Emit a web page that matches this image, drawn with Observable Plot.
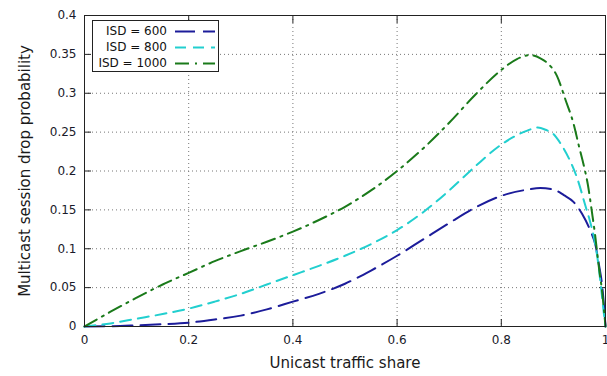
<!DOCTYPE html>
<html>
<head>
<meta charset="utf-8">
<script src="https://cdn.jsdelivr.net/npm/d3@7"></script>
<script src="https://cdn.jsdelivr.net/npm/@observablehq/plot@0.6"></script>
<style>
  html, body { margin: 0; padding: 0; background: white; }
  #wrap { position: relative; width: 607px; height: 376px; overflow: hidden; }
  #legend { position: absolute; left: 92px; top: 20px; width: 125px; height: 50px;
    border: 1px solid #222; background: white; font-family: "DejaVu Sans", sans-serif; font-size: 12px; color: #111; }
  #legend .row { position: absolute; left: 0; width: 125px; height: 17px; }
  #legend .lab { position: absolute; right: 51px; top: 0; line-height: 17px; white-space: nowrap; }
  #legend svg { position: absolute; left: 82px; top: 0; }
</style>
</head>
<body>
<div id="wrap"></div>
<script>
// ---- data ----
const seriesNames = ["ISD = 600", "ISD = 800", "ISD = 1000"];
const seriesColors = ["#1c1c9a", "#22cfcf", "#1a7a1a"];
const seriesDash = ["20,8", "11,7", "14,6,2,6"];

const isd600X = [0, 0.05, 0.1, 0.15, 0.2, 0.25, 0.3, 0.35, 0.4, 0.45, 0.5, 0.55, 0.6, 0.65, 0.7, 0.75, 0.8, 0.85, 0.875, 0.901, 0.92, 0.939, 0.955, 0.971, 0.981, 0.987, 0.994, 0.999, 1];
const isd600Y = [0, 0.0003, 0.0015, 0.003, 0.005, 0.009, 0.014, 0.022, 0.032, 0.042, 0.055, 0.072, 0.091, 0.112, 0.133, 0.153, 0.168, 0.176, 0.178, 0.176, 0.169, 0.160, 0.145, 0.123, 0.104, 0.081, 0.050, 0.010, 0];

const isd800X = [0, 0.05, 0.1, 0.15, 0.2, 0.25, 0.3, 0.35, 0.4, 0.45, 0.5, 0.55, 0.6, 0.65, 0.7, 0.75, 0.8, 0.85, 0.87, 0.885, 0.901, 0.915, 0.93, 0.946, 0.962, 0.97, 0.978, 0.984, 0.99, 0.997, 1];
const isd800Y = [0, 0.004, 0.010, 0.016, 0.023, 0.032, 0.042, 0.054, 0.066, 0.078, 0.091, 0.106, 0.124, 0.147, 0.175, 0.206, 0.234, 0.252, 0.256, 0.253, 0.247, 0.234, 0.216, 0.190, 0.154, 0.136, 0.114, 0.091, 0.059, 0.016, 0];

const isd1000X = [0, 0.05, 0.1, 0.15, 0.2, 0.25, 0.3, 0.35, 0.4, 0.45, 0.5, 0.55, 0.6, 0.65, 0.7, 0.75, 0.8, 0.83, 0.855, 0.875, 0.888, 0.907, 0.923, 0.939, 0.949, 0.958, 0.966, 0.974, 0.98, 0.987, 0.994, 1];
const isd1000Y = [0, 0.019, 0.037, 0.054, 0.069, 0.084, 0.097, 0.109, 0.122, 0.137, 0.154, 0.175, 0.200, 0.229, 0.262, 0.298, 0.330, 0.344, 0.349, 0.345, 0.339, 0.322, 0.292, 0.260, 0.232, 0.208, 0.183, 0.147, 0.118, 0.078, 0.042, 0];

const xTicks = [0, 0.2, 0.4, 0.6, 0.8, 1];
const xTickLabels = ["0", "0.2", "0.4", "0.6", "0.8", "1"];
const yTicks = [0, 0.05, 0.1, 0.15, 0.2, 0.25, 0.3, 0.35, 0.4];
const yTickLabels = ["0", "0.05", "0.1", "0.15", "0.2", "0.25", "0.3", "0.35", "0.4"];
const xTitle = "Unicast traffic share";
const yTitle = "Multicast session drop probability";

// ---- build ----
const allX = [isd600X, isd800X, isd1000X];
const allY = [isd600Y, isd800Y, isd1000Y];
const series = allX.map((xs, i) => xs.map((x, j) => ({x, y: allY[i][j]})));

const xFmt = d => xTickLabels[xTicks.indexOf(d)];
const yFmt = d => yTickLabels[yTicks.indexOf(d)];
const gridStyle = {stroke: "#777", strokeOpacity: 1, strokeDasharray: "1,3", strokeWidth: 1};

const chart = Plot.plot({
  width: 607,
  height: 376,
  marginLeft: 84,
  marginRight: 2,
  marginTop: 15,
  marginBottom: 50,
  style: {fontFamily: "DejaVu Sans, sans-serif", fontSize: "12px", color: "#1a1a2a", background: "white", overflow: "visible"},
  x: {domain: [0, 1]},
  y: {domain: [0, 0.4]},
  marks: [
    Plot.gridX(xTicks.slice(1, -1), gridStyle),
    Plot.gridY(yTicks.slice(1, -1), gridStyle),
    // tick labels
    Plot.axisX(xTicks, {tickSize: 0, tickPadding: 9, tickFormat: xFmt, label: null, fontSize: 12}),
    Plot.axisY(yTicks, {tickSize: 0, tickPadding: 8, tickFormat: yFmt, label: null, fontSize: 12}),
    // inward tick marks on all four sides
    Plot.axisX(xTicks, {anchor: "bottom", tickSize: 7, dy: -7, tickFormat: () => "", label: null, stroke: "#222"}),
    Plot.axisX(xTicks, {anchor: "top", tickSize: 7, dy: 7, tickFormat: () => "", label: null, stroke: "#222"}),
    Plot.axisY(yTicks, {anchor: "left", tickSize: 7, dx: 7, tickFormat: () => "", label: null, stroke: "#222"}),
    Plot.axisY(yTicks, {anchor: "right", tickSize: 7, dx: -7, tickFormat: () => "", label: null, stroke: "#222"}),
    ...series.map((data, i) => Plot.line(data, {
      x: "x", y: "y", stroke: seriesColors[i], strokeWidth: 2,
      strokeDasharray: seriesDash[i], curve: "monotone-x"
    })),
    Plot.frame({stroke: "#222", strokeWidth: 1}),
    Plot.text([xTitle], {frameAnchor: "bottom", dy: 41, fontSize: 15, fill: "#1a1a1a", text: d => d}),
    Plot.text([yTitle], {frameAnchor: "left", textAnchor: "middle", dx: -59, rotate: -90, fontSize: 15, fill: "#1a1a1a", text: d => d})
  ]
});
const wrap = document.getElementById("wrap");
wrap.appendChild(chart);

// legend (inside plot area, top-left)
const legend = document.createElement("div");
legend.id = "legend";
const rowTops = [2, 18, 34];
seriesNames.forEach((name, i) => {
  const row = document.createElement("div");
  row.className = "row";
  row.style.top = rowTops[i] + "px";
  const lab = document.createElement("span");
  lab.className = "lab";
  lab.textContent = name;
  row.appendChild(lab);
  const svg = d3.create("svg").attr("width", 40).attr("height", 17);
  svg.append("line").attr("x1", 0).attr("x2", 40).attr("y1", 8.5).attr("y2", 8.5)
    .attr("stroke", seriesColors[i]).attr("stroke-width", 2)
    .attr("stroke-dasharray", seriesDash[i]);
  row.appendChild(svg.node());
  legend.appendChild(row);
});
wrap.appendChild(legend);
</script>
</body>
</html>
